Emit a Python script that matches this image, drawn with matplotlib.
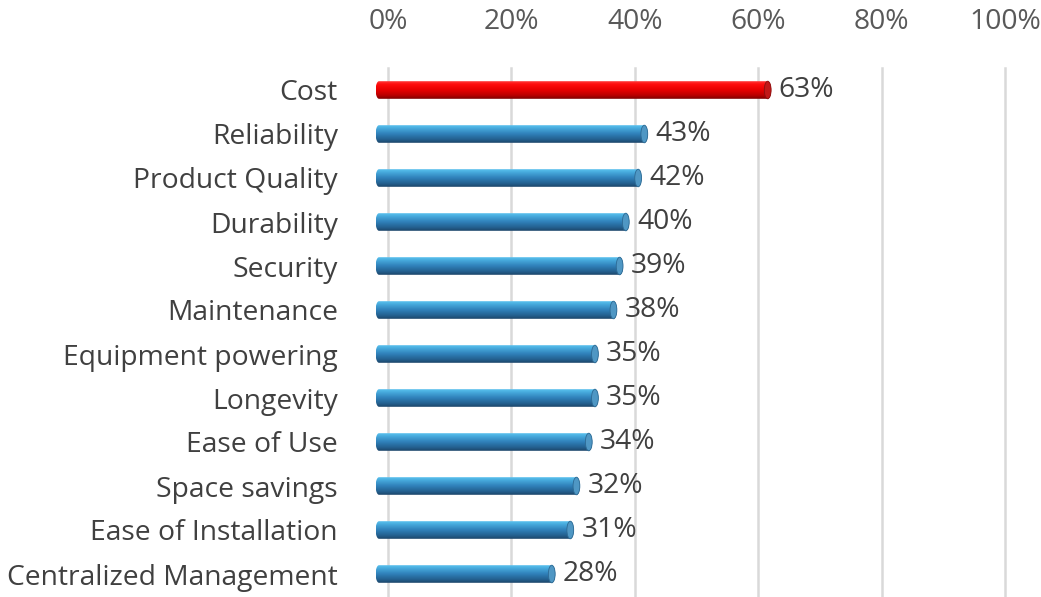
import numpy as np
import matplotlib
matplotlib.use("Agg")
import matplotlib.pyplot as plt
from matplotlib.path import Path
from matplotlib.patches import PathPatch, Ellipse
from matplotlib.colors import LinearSegmentedColormap
import matplotlib.transforms as mtransforms

categories = ["Cost", "Reliability", "Product Quality", "Durability", "Security",
              "Maintenance", "Equipment powering", "Longevity", "Ease of Use",
              "Space savings", "Ease of Installation", "Centralized Management"]
values = [63, 43, 42, 40, 39, 38, 35, 35, 34, 32, 31, 28]
highlight = ["Cost"]
ticks = [0, 20, 40, 60, 80, 100]

plt.rcParams['font.family'] = ['Open Sans', 'DejaVu Sans']

fig = plt.figure(figsize=(10.41, 5.97), dpi=100)
px = 6.17  # pixels per percent
xmin = -0.8
left_px = 379 + xmin * px
ax = fig.add_axes([left_px / 1041, 1 - 596/597, (100 - xmin) * px / 1041, 528/597])

blue_cmap = LinearSegmentedColormap.from_list(
    "b", [(0, "#5cc3f0"), (0.18, "#46a9dc"), (0.5, "#2f7fb8"), (0.8, "#24608f"), (1, "#1b4468")])
red_cmap = LinearSegmentedColormap.from_list(
    "r", [(0, "#ff3a3a"), (0.18, "#ff0d0d"), (0.5, "#e60000"), (0.8, "#b80000"), (1, "#7a0000")])

y = np.arange(len(categories))
h = 0.4
bars = ax.barh(y, values, height=h, color="none", zorder=3)

ax.set_xlim(xmin, 100)
ax.set_ylim(len(categories) - 0.5, -0.5)

# gridlines (offset slightly to mimic 3D back wall)
off = mtransforms.ScaledTranslation(9/100, 0, fig.dpi_scale_trans)
for t in ticks:
    ax.plot([t, t], [len(categories) - 0.5, -0.5], color="#d9d9d9", lw=1.8,
            transform=ax.transData + off, zorder=1, clip_on=False)

grad = np.linspace(0, 1, 256).reshape(-1, 1)
a = 0.55  # half-width of rounded ends in data units
for bar, cat in zip(bars, categories):
    x0, yc0, w, hh = bar.get_x(), bar.get_y(), bar.get_width(), bar.get_height()
    top, bot = yc0, yc0 + hh  # top visually (inverted axis)
    yc = yc0 + hh / 2
    r = hh / 2
    n = 30
    th = np.linspace(np.pi / 2, 3 * np.pi / 2, n)
    left = np.column_stack([x0 + a * np.cos(th), yc - r * np.sin(th)])
    th2 = np.linspace(-np.pi / 2, np.pi / 2, n)
    right = np.column_stack([x0 + w + a * np.cos(th2), yc - r * np.sin(th2)])
    verts = np.vstack([left, right, left[:1]])
    path = Path(verts)
    patch = PathPatch(path, facecolor="none", edgecolor="none", transform=ax.transData)
    ax.add_patch(patch)
    cmap = red_cmap if cat in highlight else blue_cmap
    im = ax.imshow(grad, cmap=cmap, aspect="auto", origin="upper",
                   extent=(x0 - a, x0 + w + a, bot, top), zorder=3, interpolation="bilinear")
    im.set_clip_path(patch)
    capc = "#c21818" if cat in highlight else "#4f97c4"
    ax.add_patch(Ellipse((x0 + w, yc), 2 * a, hh, facecolor=capc,
                         edgecolor="#8a1010" if cat in highlight else "#2d6a94",
                         lw=0.6, zorder=4))
    ax.annotate(f"{w:.0f}%", (x0 + w, yc), xytext=(8, 0), textcoords="offset points",
                va="center", ha="left", fontsize=20.3, color="#404040", zorder=5)

ax.set_yticks(y)
ax.set_yticklabels(categories, fontsize=20.3, color="#404040")
ax.tick_params(axis="y", length=0, pad=26)
ax.xaxis.tick_top()
ax.set_xticks(ticks)
ax.set_xticklabels([f"{t}%" for t in ticks], fontsize=20.3, color="#595959")
ax.tick_params(axis="x", length=0, pad=23)
for lab in ax.get_xticklabels():
    lab.set_transform(lab.get_transform() + off)
for s in ax.spines.values():
    s.set_visible(False)
ax.set_facecolor("none")

fig.savefig("out.png", dpi=100)
